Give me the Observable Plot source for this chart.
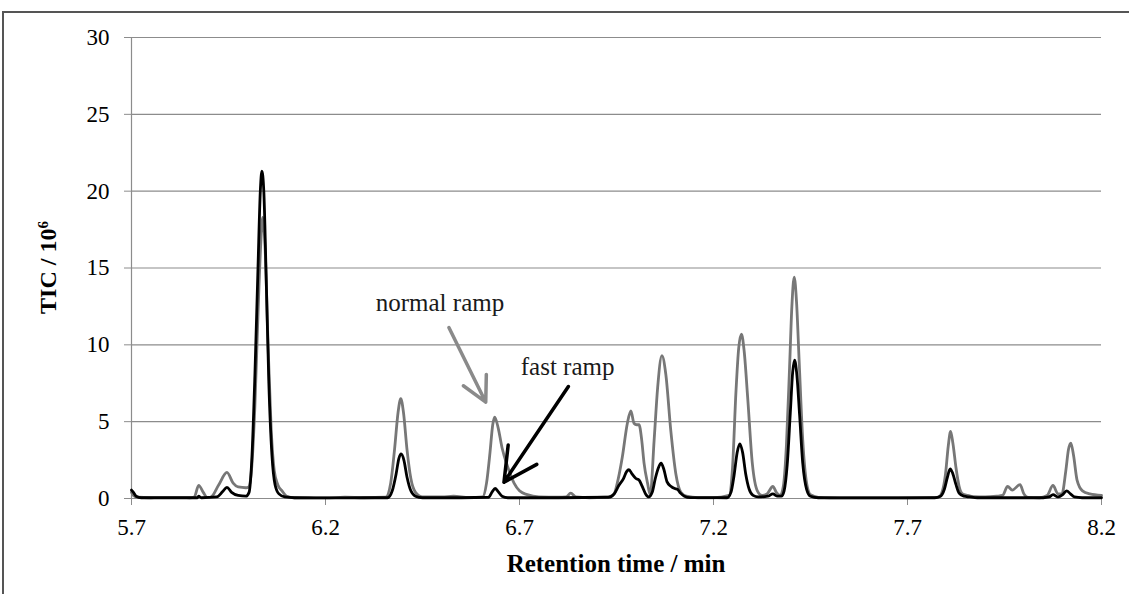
<!DOCTYPE html>
<html>
<head>
<meta charset="utf-8">
<script src="https://cdn.jsdelivr.net/npm/d3@7"></script>
<script src="https://cdn.jsdelivr.net/npm/@observablehq/plot@0.6"></script>
<style>
  html, body { margin: 0; padding: 0; background: #fff; overflow: hidden; }
  #wrap { position: relative; width: 1129px; height: 594px; }
  #frame { position: absolute; left: 2px; top: 11px; width: 1200px; height: 700px;
           border-left: 2px solid #555; border-top: 2px solid #555; box-sizing: border-box; }
  #chart { position: absolute; left: 0; top: 0; }
</style>
</head>
<body>
<div id="wrap"><div id="frame"></div><div id="chart"></div></div>
<script>
// ---- data ----
const xTicks = [5.7, 6.2, 6.7, 7.2, 7.7, 8.2];
const yTicks = [0, 5, 10, 15, 20, 25, 30];
const xLabel = "Retention time / min";
const yLabel = "TIC / 10";
const yLabelSup = "6";

// normal ramp (grey)
const normalT = [5.700,5.705,5.715,5.750,5.800,5.850,5.862,5.873,5.885,5.895,5.905,5.925,5.946,5.962,5.975,5.995,6.002,
  6.008,6.018,6.026,6.033,6.038,6.044,6.052,6.060,6.068,6.077,6.088,6.100,6.120,
  6.150,6.200,6.250,6.300,6.355,6.368,6.378,6.387,6.394,6.401,6.410,6.420,6.432,6.450,
  6.500,6.530,6.570,6.605,6.615,6.624,6.631,6.636,6.645,6.655,6.669,6.686,6.700,6.720,6.750,6.800,6.820,6.832,6.845,6.880,6.920,
  6.935,6.944,6.952,6.965,6.978,6.987,6.995,7.002,7.008,7.015,7.021,7.030,7.037,7.047,7.056,7.067,7.077,7.090,7.103,7.116,7.130,7.160,
  7.200,7.240,7.249,7.258,7.265,7.272,7.279,7.288,7.300,7.313,7.325,7.338,7.353,7.362,
  7.372,7.380,7.388,7.396,7.402,7.408,7.414,7.421,7.430,7.440,7.450,7.470,
  7.500,7.600,7.700,7.770,7.780,7.790,7.798,7.805,7.811,7.817,7.825,7.833,7.842,7.855,7.870,7.900,7.930,7.945,7.958,7.970,7.990,8.000,8.010,
  8.040,8.060,8.075,8.088,8.098,8.108,8.115,8.121,8.128,8.137,8.151,8.170,8.200];
const normalV = [0.40,0.20,0.08,0.05,0.06,0.05,0.10,0.85,0.40,0.06,0.10,0.90,1.70,1.00,0.75,0.70,0.75,
  1.50,6.00,12.0,16.5,18.3,16.5,10.0,4.50,1.80,0.90,0.50,0.15,0.05,
  0.05,0.04,0.08,0.05,0.08,1.00,3.20,5.60,6.50,5.60,3.20,1.30,0.40,0.10,
  0.10,0.15,0.06,0.10,1.00,3.00,4.80,5.30,4.60,3.30,2.10,1.00,0.50,0.25,0.10,0.08,0.10,0.35,0.10,0.05,0.08,
  0.15,0.30,1.00,2.70,4.90,5.70,4.90,4.80,4.80,3.80,2.30,1.00,0.25,3.80,7.20,9.30,8.10,4.40,1.60,0.40,0.15,0.05,
  0.05,0.20,2.00,7.00,9.80,10.7,9.60,6.60,2.30,0.50,0.20,0.30,0.78,0.40,
  0.20,0.80,3.50,8.50,12.5,14.4,12.8,8.80,3.80,1.00,0.25,0.08,
  0.05,0.05,0.05,0.06,0.10,0.50,1.60,3.40,4.36,3.60,2.00,0.80,0.30,0.20,0.12,0.10,0.15,0.20,0.78,0.55,0.90,0.30,0.08,
  0.05,0.20,0.85,0.30,0.30,1.80,3.20,3.60,2.80,1.20,0.50,0.30,0.20];

// fast ramp (black)
const fastT = [5.700,5.705,5.712,5.725,5.800,5.870,5.873,5.880,5.920,5.935,5.946,5.958,5.975,5.995,
  6.003,6.010,6.018,6.026,6.032,6.036,6.041,6.047,6.054,6.062,6.070,6.080,6.095,6.120,
  6.200,6.300,6.360,6.372,6.382,6.389,6.395,6.402,6.410,6.420,6.432,6.450,
  6.550,6.620,6.630,6.637,6.645,6.655,6.670,6.800,6.930,
  6.944,6.956,6.968,6.976,6.982,6.990,7.000,7.008,7.016,7.025,7.033,7.042,7.050,7.058,7.065,7.072,7.080,7.090,7.100,7.107,7.115,7.125,7.140,
  7.235,7.245,7.253,7.261,7.268,7.275,7.283,7.292,7.302,7.315,7.340,7.353,7.365,7.375,
  7.382,7.390,7.398,7.404,7.409,7.415,7.422,7.430,7.440,7.450,7.470,
  7.600,7.770,7.785,7.795,7.803,7.810,7.817,7.825,7.833,7.845,7.860,7.880,
  8.050,8.065,8.075,8.088,8.100,8.110,8.120,8.130,8.150,8.200];
const fastV = [0.55,0.40,0.15,0.05,0.05,0.05,0.15,0.05,0.10,0.45,0.73,0.40,0.20,0.15,
  0.40,2.50,8.00,15.0,20.0,21.3,20.0,14.5,7.50,2.80,0.90,0.30,0.10,0.05,
  0.04,0.05,0.05,0.50,1.60,2.60,2.90,2.50,1.40,0.50,0.15,0.05,
  0.05,0.08,0.45,0.65,0.45,0.15,0.05,0.05,0.08,
  0.30,0.85,1.30,1.75,1.87,1.60,1.30,1.20,0.80,0.30,0.10,0.40,1.30,2.00,2.30,1.90,1.10,0.80,0.65,0.60,0.35,0.15,0.06,
  0.05,0.40,1.50,3.00,3.56,3.00,1.60,0.60,0.20,0.10,0.15,0.30,0.15,0.15,
  0.50,2.20,5.60,8.20,9.00,8.00,5.40,2.30,0.60,0.15,0.05,
  0.04,0.05,0.15,0.60,1.40,1.93,1.60,0.90,0.35,0.15,0.10,0.05,
  0.05,0.10,0.25,0.10,0.25,0.50,0.30,0.10,0.05,0.05];

// annotations
const noteLabels = ["normal ramp", "fast ramp"];
const noteX = [6.495, 6.824];
const noteY = [12.75, 8.55];
const arrowX1 = [6.518, 6.826];
const arrowY1 = [11.13, 7.29];
const arrowX2 = [6.613, 6.660];
const arrowY2 = [6.27, 1.06];
const arrowColors = ["#8a8a8a", "#000000"];

// ---- tables ----
const normal = normalT.map((t, i) => ({t, v: normalV[i]}));
const fast = fastT.map((t, i) => ({t, v: fastV[i]}));
const notes = noteLabels.map((label, i) => ({label, x: noteX[i], y: noteY[i]}));
const arrows = arrowX1.map((x1, i) => ({x1, y1: arrowY1[i], x2: arrowX2[i], y2: arrowY2[i], c: arrowColors[i]}));

const grey = "#8c8c8c";
const plot = Plot.plot({
  width: 1129,
  height: 594,
  marginLeft: 131,
  marginRight: 28,
  marginTop: 37,
  marginBottom: 96,
  style: {fontFamily: "'Liberation Serif', 'Times New Roman', serif", fontSize: "23px", color: "#000", background: "transparent"},
  x: {domain: [5.7, 8.2]},
  y: {domain: [0, 30]},
  marks: [
    Plot.gridY(yTicks.filter(d => d > 0), {stroke: grey, strokeOpacity: 1, strokeWidth: 1.2}),
    Plot.ruleY([0], {stroke: grey, strokeWidth: 1.2}),
    Plot.ruleX([5.7], {stroke: grey, strokeWidth: 1.2}),
    Plot.axisY(yTicks, {tickSize: 7, tickPadding: 15, stroke: grey, fill: "#000", fontSize: 23, label: null, tickFormat: d => String(d)}),
    Plot.axisX(xTicks, {tickSize: 7, tickPadding: 13, stroke: grey, fill: "#000", fontSize: 23, label: null, tickFormat: d => d.toFixed(1)}),
    Plot.line(normal, {x: "t", y: "v", stroke: "#777", strokeWidth: 2.8, curve: "monotone-x"}),
    Plot.line(fast, {x: "t", y: "v", stroke: "#000", strokeWidth: 2.8, curve: "monotone-x"}),
    Plot.arrow(arrows, {x1: "x1", y1: "y1", x2: "x2", y2: "y2", stroke: "c", strokeWidth: 3.5, headLength: 16, headAngle: 55}),
    Plot.text(notes, {x: "x", y: "y", text: "label", fontSize: 25, fill: "#1a1a1a", textAnchor: "middle"})
  ]
});

document.getElementById("chart").appendChild(plot);

// axis titles as real text
const sx = plot.scale("x"), sy = plot.scale("y");
const svg = d3.select(plot);
svg.append("text")
  .attr("x", (sx.apply(5.7) + sx.apply(8.2)) / 2)
  .attr("y", 572)
  .attr("text-anchor", "middle")
  .attr("font-family", "'Liberation Serif', 'Times New Roman', serif")
  .attr("font-weight", "bold")
  .attr("font-size", 25)
  .attr("fill", "#000")
  .text(xLabel);
const yt = svg.append("text")
  .attr("transform", `translate(56,${(sy.apply(0) + sy.apply(30)) / 2}) rotate(-90)`)
  .attr("text-anchor", "middle")
  .attr("font-family", "'Liberation Serif', 'Times New Roman', serif")
  .attr("font-weight", "bold")
  .attr("font-size", 24)
  .attr("fill", "#000");
yt.append("tspan").text(yLabel);
yt.append("tspan").attr("baseline-shift", "super").attr("font-size", 15).text(yLabelSup);
</script>
</body>
</html>
